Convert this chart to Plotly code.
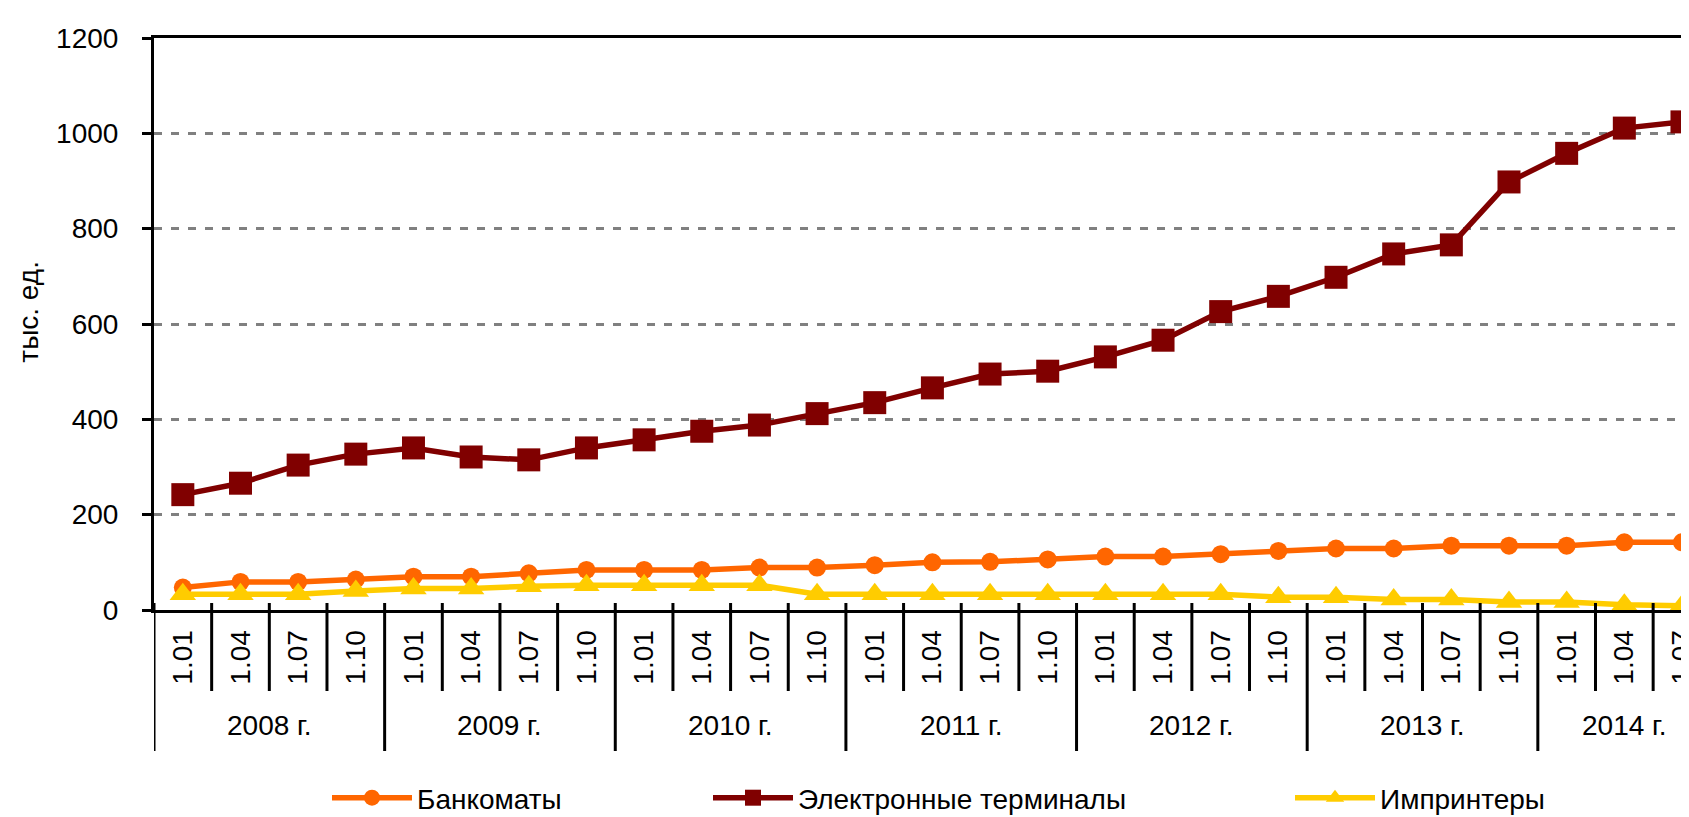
import plotly.graph_objects as go

quarters = ["1.01", "1.04", "1.07", "1.10"] * 6 + ["1.01", "1.04", "1.07"]
years = ["2008 г.", "2009 г.", "2010 г.", "2011 г.", "2012 г.", "2013 г.", "2014 г."]
year_counts = [4, 4, 4, 4, 4, 4, 3]

atms = [47, 59, 59, 64, 70, 70, 77, 84, 84, 84, 89, 89, 94, 100, 101, 106, 112, 112,
        117, 124, 129, 129, 135, 135, 135, 142, 142]
terminals = [242, 266, 304, 327, 340, 321, 315, 340, 357, 375, 388, 412, 435, 466, 495,
             501, 531, 566, 626, 658, 698, 747, 766, 898, 958, 1011, 1024]
imprinters = [33, 33, 33, 40, 45, 45, 50, 52, 52, 52, 52, 33, 33, 33, 33, 33, 33, 33, 33,
              27, 27, 22, 22, 17, 17, 11, 9]

names = ["Банкоматы", "Электронные терминалы", "Импринтеры"]
colors = ["#FF6600", "#800000", "#FFCC00"]
symbols = ["circle", "square", "triangle-up"]
sizes = [18, 23, 23]

FONT = "Liberation Sans, Arial, sans-serif"
FS = 28

x = list(range(len(quarters)))
series = [atms, terminals, imprinters]

fig = go.Figure()
legend_ids = ["legend", "legend2", "legend3"]
for i in [1, 0, 2]:
    fig.add_trace(go.Scatter(
        x=x, y=series[i], name=names[i], mode="lines+markers",
        line=dict(color=colors[i], width=5.5),
        marker=dict(symbol=symbols[i], size=sizes[i], color=colors[i], line=dict(width=0)),
        legend=legend_ids[i], showlegend=True, cliponaxis=False,
    ))

W, H = 1689, 817
L, T, B_px = 146, 30, 602
plot_h = B_px - T

def py(px):
    return (B_px - px) / plot_h

shapes = []
idx = 0
boundaries = [-0.5]
for c in year_counts:
    idx += c
    boundaries.append(idx - 0.5)
for k in range(len(quarters)):
    pos = k - 0.5
    if pos in boundaries:
        continue
    shapes.append(dict(type="line", xref="x", yref="paper", x0=pos, x1=pos,
                       y0=py(595), y1=py(683), line=dict(color="black", width=3)))
for pos in boundaries[:-1]:
    shapes.append(dict(type="line", xref="x", yref="paper", x0=pos, x1=pos,
                       y0=py(595), y1=py(743), line=dict(color="black", width=3)))

annotations = []
start = 0
for yname, c in zip(years, year_counts):
    center = start + (c - 1) / 2
    annotations.append(dict(text=yname, xref="x", yref="paper", x=center, y=py(717),
                            showarrow=False, yanchor="middle", xanchor="center",
                            font=dict(family=FONT, size=FS, color="black")))
    start += c

annotations.append(dict(text="тыс. ед.", xref="paper", yref="paper",
                        x=(19 - L) / (W - L), y=py(304), textangle=-90,
                        showarrow=False, xanchor="center", yanchor="middle",
                        font=dict(family=FONT, size=FS, color="black")))

step = 57.96
rng_right = (W - L) / step - 0.5

fig.update_layout(
    width=W, height=H,
    margin=dict(l=L, r=0, t=T, b=H - B_px, pad=0),
    paper_bgcolor="white", plot_bgcolor="white",
    font=dict(family=FONT, size=FS, color="black"),
    xaxis=dict(range=[-0.5, rng_right], tickmode="array", tickvals=x, ticktext=quarters,
               tickangle=-90, showgrid=False, zeroline=False, showline=True,
               linecolor="black", linewidth=3, mirror=True, ticks="",
               ticklabelstandoff=6, ticklabeloverflow="allow",
               tickfont=dict(family=FONT, size=FS, color="black")),
    yaxis=dict(range=[0, 1200], dtick=200, tickmode="linear", showgrid=True,
               gridcolor="#808080", gridwidth=3, griddash="8px,9px", zeroline=False,
               showline=True, linecolor="black", linewidth=3, ticks="outside",
               ticklen=9, tickwidth=3, tickcolor="black", ticklabelstandoff=18,
               tickfont=dict(family=FONT, size=FS, color="black")),
    shapes=shapes,
    annotations=annotations,
    showlegend=True,
)

leg_common = dict(orientation="h", xref="container", yref="container", yanchor="middle",
                  xanchor="left", bgcolor="rgba(0,0,0,0)", borderwidth=0, itemwidth=80,
                  font=dict(family=FONT, size=FS, color="black"))
legend_x = [319, 700, 1282]
leg_y = 1 - 790 / H
fig.update_layout(
    legend=dict(x=legend_x[0] / W, y=leg_y, **leg_common),
    legend2=dict(x=legend_x[1] / W, y=leg_y, **leg_common),
    legend3=dict(x=legend_x[2] / W, y=leg_y, **leg_common),
)

fig.write_html("out.html")
